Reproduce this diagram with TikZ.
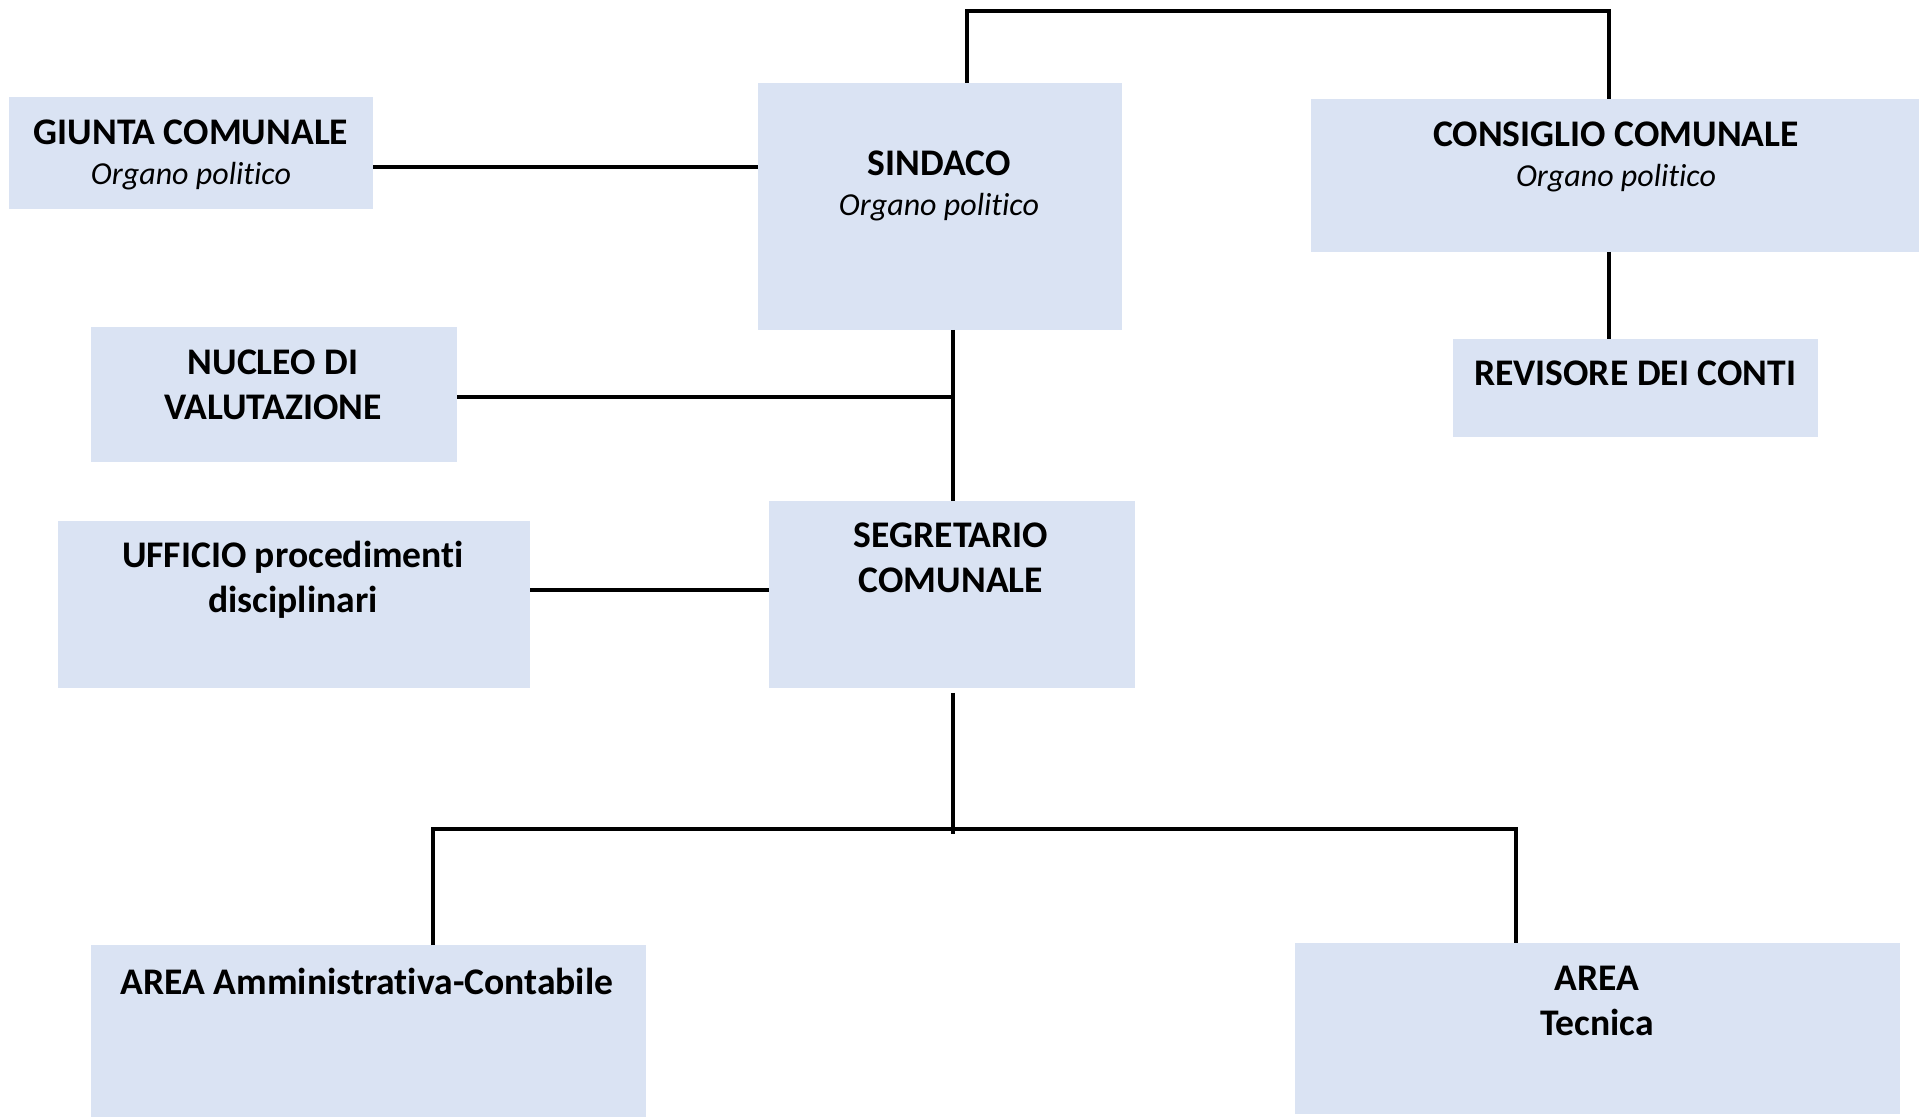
\documentclass[tikz,border=0pt]{standalone}
\usepackage{fontspec}
\setmainfont{Carlito}[Ligatures=CommonOff]
\usetikzlibrary{fit}
\definecolor{boxblue}{RGB}{218,227,243}
\newcommand{\organo}{{\fontsize{16}{22.5}\selectfont\itshape Organo politico}}

\begin{document}
\begin{tikzpicture}[x=0.5pt,y=-0.5pt,
		box/.style={fill=boxblue, inner sep=0pt, outer sep=0pt, fit={#1}},
		txt/.style={align=center, font=\fontsize{18.8}{22.5}\selectfont},
		link/.style={line width=1.7pt}]
		\useasboundingbox (0,0) rectangle (1919,1117);
		% boxes
		\node[box={(9,97) (373,209)}] (giunta) {};
		\node[box={(758,83) (1122,330)}] (sindaco) {};
		\node[box={(1311,99) (1919,252)}] (consiglio) {};
		\node[box={(1453,339) (1818,437)}] (revisore) {};
		\node[box={(91,327) (457,462)}] (nucleo) {};
		\node[box={(58,521) (530,688)}] (ufficio) {};
		\node[box={(769,501) (1135,688)}] (segretario) {};
		\node[box={(91,945) (646,1117)}] (aream) {};
		\node[box={(1295,943) (1900,1114)}] (areat) {};
		% texts
		\node[txt] (giunta-t) at (191,155) {\textbf{GIUNTA COMUNALE}\\[-2.5pt]\organo};
		\node[txt] (sindaco-t) at (939,186) {\textbf{SINDACO}\\[-2.5pt]\organo};
		\node[txt] (consiglio-t) at (1616,157) {\textbf{CONSIGLIO COMUNALE}\\[-2.5pt]\organo};
		\node[txt] (revisore-t) at (1635,373) {\textbf{REVISORE DEI CONTI}};
		\node[txt] (nucleo-t) at (273,385) {\textbf{NUCLEO DI}\\\textbf{VALUTAZIONE}};
		\node[txt] (ufficio-t) at (293,580) {\textbf{UFFICIO procedimenti}\\\textbf{disciplinari}};
		\node[txt] (segretario-t) at (951,558) {\textbf{SEGRETARIO}\\\textbf{COMUNALE}};
		\node[txt] (aream-t) at (367,981) {\textbf{AREA Amministrativa-Contabile}};
		\node[txt] (areat-t) at (1597,1001) {\textbf{AREA}\\\textbf{Tecnica}};
		% connectors
		\coordinate (topl) at (967,11);
		\coordinate (topr) at (1609,11);
		\draw[link] (sindaco.north -| topl) -- (topl) -- (topr) -- (consiglio.north -| topr);
		\draw[link] (consiglio.south -| topr) -- (revisore.north -| topr);
		\coordinate (gline) at (0,167);
		\draw[link] (giunta.east |- gline) -- (sindaco.west |- gline);
		\coordinate (spine) at (953,397);
		\draw[link] (sindaco.south -| spine) -- (segretario.north -| spine);
		\draw[link] (nucleo.east |- spine) -- (spine);
		\coordinate (uline) at (0,590);
		\draw[link] (ufficio.east |- uline) -- (segretario.west |- uline);
		\coordinate (hub) at (953,834);
		\coordinate (hl) at (433,829);
		\coordinate (hr) at (1516,829);
		\draw[link] ([yshift=-2.5pt]segretario.south -| hub) -- (hub);
		\draw[link] (aream.north -| hl) -- (hl) -- (hr) -- (areat.north -| hr);
\end{tikzpicture}
\end{document}
